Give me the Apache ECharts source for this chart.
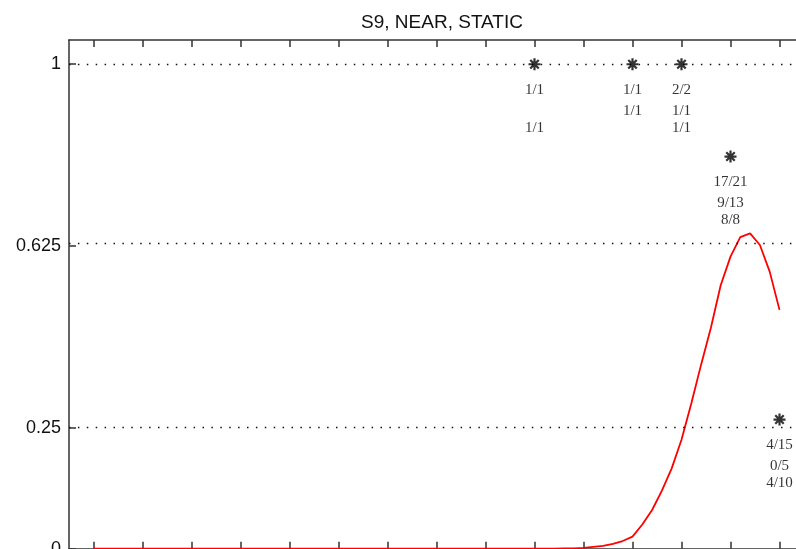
<!DOCTYPE html>
<html>
<head>
<meta charset="utf-8">
<script src="https://cdn.jsdelivr.net/npm/echarts@6.0.0/dist/echarts.min.js"></script>
<style>html,body{margin:0;padding:0;background:#fff}#c{width:796px;height:549px}</style>
</head>
<body>
<div id="c"></div>
<script>
const titleText = 'S9, NEAR, STATIC';
const xTicks = [1,2,3,4,5,6,7,8,9,10,11,12,13,14,15];
const yTicks = [0, 0.25, 0.625, 1];
const gridValues = [0.25, 0.625, 1];

const curveX = [1.0,1.2,1.4,1.6,1.8,2.0,2.2,2.4,2.6,2.8,3.0,3.2,3.4,3.6,3.8,4.0,4.2,4.4,4.6,4.8,
  5.0,5.2,5.4,5.6,5.8,6.0,6.2,6.4,6.6,6.8,7.0,7.2,7.4,7.6,7.8,8.0,8.2,8.4,8.6,8.8,
  9.0,9.2,9.4,9.6,9.8,10.0,10.2,10.4,10.6,10.8,11.0,11.2,11.4,11.6,11.8,12.0,12.2,12.4,12.6,12.8,
  13.0,13.2,13.4,13.6,13.8,14.0,14.2,14.4,14.6,14.8,15.0];
const curveY = [0,0,0,0,0,0,0,0,0,0,0,0,0,0,0,0,0,0,0,0,
  0,0,0,0,0,0,0,0,0,0,0,0,0,0,0,0,0,0,0,0,
  0,0,0,0,0,0,0,0.0005,0.001,0.001,0.002,0.004,0.006,0.01,0.016,0.025,0.05,0.08,0.12,0.166,
  0.225,0.30,0.38,0.456,0.544,0.603,0.643,0.651,0.627,0.572,0.493];

const starX = [10, 12, 13, 14, 15];
const starY = [1, 1, 1, 0.8095, 0.2667];
const labels1 = ['1/1', '1/1', '2/2', '17/21', '4/15'];
const labels2 = ['', '1/1', '1/1', '9/13', '0/5'];
const labels3 = ['1/1', '', '1/1', '8/8', '4/10'];

const axisColor = '#333';
const curveData = curveX.map((x, i) => [x, curveY[i]]);
const starData = starX.map((x, i) => [x, starY[i]]);

function labelSeries(arr, dy) {
  return {
    type: 'scatter',
    data: starData,
    symbol: 'circle',
    symbolSize: 1,
    itemStyle: { color: 'transparent' },
    silent: true,
    z: 4,
    label: {
      show: true,
      position: 'inside',
      offset: [0, dy],
      formatter: p => arr[p.dataIndex],
      fontFamily: 'Liberation Serif',
      fontSize: 15,
      color: '#000'
    }
  };
}

const xCommon = {
  type: 'value', min: 0.5, max: 15.5,
  axisLine: { show: true, lineStyle: { color: axisColor, width: 1.5 } },
  axisTick: { show: true, inside: true, length: 7, customValues: xTicks, lineStyle: { color: axisColor, width: 1.5 } },
  axisLabel: { show: false },
  splitLine: { show: false }
};

const chart = echarts.init(document.getElementById('c'), null, { renderer: 'canvas' });
chart.setOption({
  animation: false,
  backgroundColor: '#fff',
  title: {
    text: titleText, left: 437, textAlign: 'center', top: 8,
    textStyle: { fontFamily: 'Liberation Sans', fontSize: 19, fontWeight: 'normal', color: '#111', lineHeight: 19 }
  },
  grid: { left: 69, top: 40, width: 735, height: 533, containLabel: false, outerBoundsMode: 'none' },
  xAxis: [
    Object.assign({}, xCommon, { position: 'bottom' }),
    Object.assign({}, xCommon, { position: 'top' })
  ],
  yAxis: {
    type: 'value', min: -0.05, max: 1.05,
    axisLine: { show: true, lineStyle: { color: axisColor, width: 1.5 } },
    axisTick: { show: true, inside: true, length: 7, customValues: yTicks, lineStyle: { color: axisColor, width: 1.5 } },
    axisLabel: { show: true, customValues: yTicks, margin: 8, fontFamily: 'Liberation Sans', fontSize: 18, color: '#111',
      formatter: v => String(v) },
    splitLine: { show: false }
  },
  series: [
    {
      type: 'line',
      data: curveData,
      symbol: 'none',
      lineStyle: { color: '#ff0000', width: 1.8 },
      z: 3,
      markLine: {
        silent: true,
        symbol: 'none',
        label: { show: false },
        lineStyle: { color: '#111', type: [1.5, 7.4], width: 1.3 },
        data: gridValues.map(v => ({ yAxis: v }))
      }
    },
    {
      type: 'scatter',
      data: starData,
      symbol: 'path://M10,0L10,20M0,10L20,10M2.93,2.93L17.07,17.07M17.07,2.93L2.93,17.07',
      symbolSize: 12,
      itemStyle: { color: 'none', borderColor: '#000', borderWidth: 2.2 },
      z: 5
    },
    labelSeries(labels1, 26),
    labelSeries(labels2, 47),
    labelSeries(labels3, 64)
  ]
});
</script>
</body>
</html>
